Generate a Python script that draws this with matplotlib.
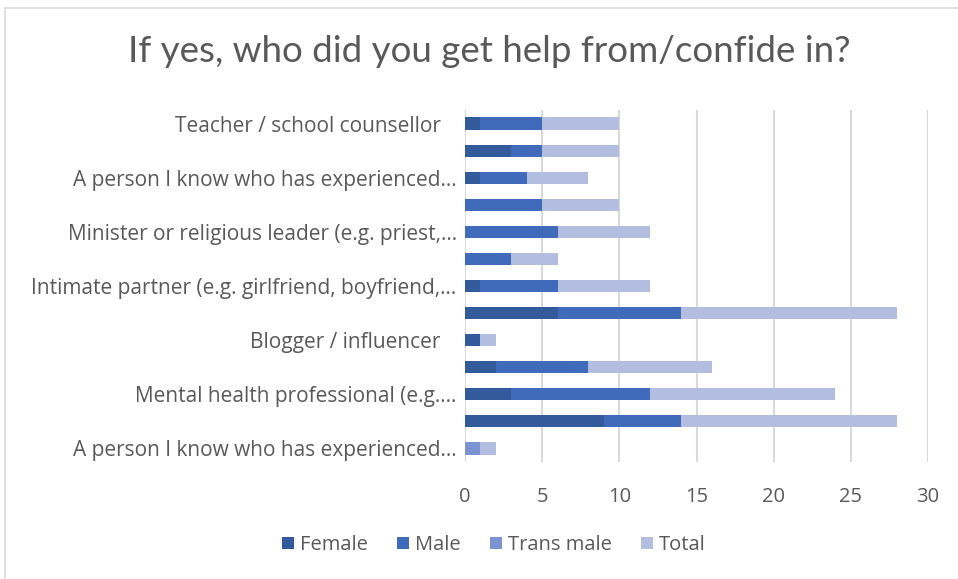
import numpy as np
import matplotlib
matplotlib.use("Agg")
import matplotlib.pyplot as plt
from matplotlib.patches import Rectangle

# categories, top to bottom (Excel only shows every other label)
labels = [
    "Teacher / school counsellor   ", "",
    "A person I know who has experienced...", "",
    "Minister or religious leader (e.g. priest,...", "",
    "Intimate partner (e.g. girlfriend, boyfriend,...", "",
    "Blogger / influencer   ", "",
    "Mental health professional (e.g....", "",
    "A person I know who has experienced...",
]

female = [1, 3, 1, 0, 0, 0, 1, 6, 1, 2, 3, 9, 0]
male = [4, 2, 3, 5, 6, 3, 5, 8, 0, 6, 9, 5, 0]
trans_male = [0, 0, 0, 0, 0, 0, 0, 0, 0, 0, 0, 0, 1]
total = [5, 5, 4, 5, 6, 3, 6, 14, 1, 8, 12, 14, 1]

series = [("Female", female, "#335a9a"),
          ("Male", male, "#3f6bba"),
          ("Trans male", trans_male, "#7b93d1"),
          ("Total", total, "#b2bddf")]

fig = plt.figure(figsize=(9.58, 5.79), dpi=100)
ax = fig.add_axes([465 / 958, 1 - 462 / 579, 463 / 958, 352 / 579])

y = np.arange(len(labels))
left = np.zeros(len(labels))
for name, vals, color in series:
    ax.barh(y, vals, left=left, height=0.45, color=color, label=name, zorder=3)
    left += np.array(vals)

ax.set_ylim(len(labels) - 0.5, -0.5)
ax.set_xlim(0, 30)
ax.set_xticks(range(0, 31, 5))
ax.set_yticks(y)
ax.set_yticklabels(labels, fontsize=15, color="#595959", family="Open Sans")
ax.tick_params(axis="y", length=0, pad=6)
ax.tick_params(axis="x", length=0, pad=18, labelsize=14.5, labelcolor="#595959")
for t in ax.get_xticklabels():
    t.set_family("Open Sans")

ax.grid(axis="x", color="#d9d9d9", linewidth=1.5, zorder=0)
for s in ax.spines.values():
    s.set_visible(False)

fig.text(489 / 958, 1 - 52 / 579, "If yes, who did you get help from/confide in?",
         ha="center", va="center", fontsize=26.5, color="#595959", family="Lato")

fig.legend(loc="center", bbox_to_anchor=(494 / 958, 1 - 545 / 579), ncol=4,
           frameon=False, prop={"family": "Open Sans", "size": 14.5},
           handlelength=0.6, handleheight=0.6, handletextpad=0.3,
           columnspacing=1.45, labelcolor="#595959")

# light chart frame
fig.patches.append(Rectangle((5 / 958, -0.1), 1.2, 1 - 8 / 579 + 0.1,
                             transform=fig.transFigure, fill=False,
                             edgecolor="#d9d9d9", linewidth=1.2))

fig.savefig("out.png", dpi=100)
